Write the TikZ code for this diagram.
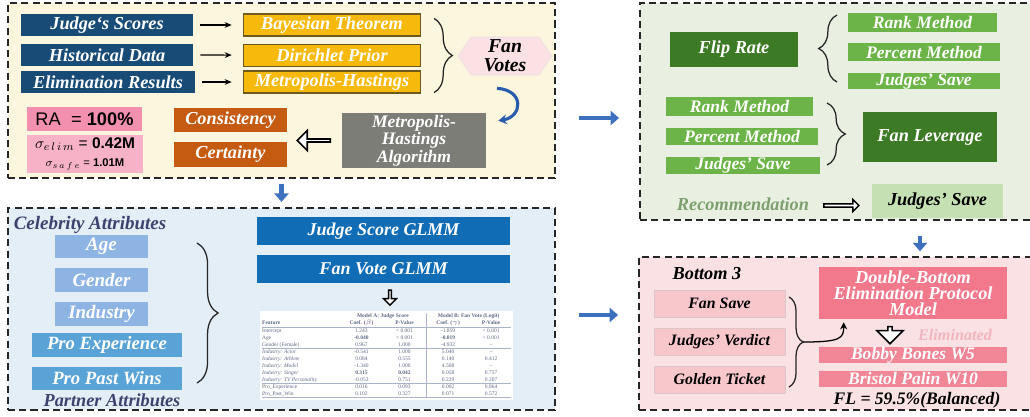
\documentclass[tikz,border=0pt]{standalone}
\usepackage{fontspec}
\setmainfont{Liberation Serif}
\newfontfamily\sansfont{Liberation Sans}
\usepackage{array}
\usepackage{colortbl}
\usepackage{tikz}
\usetikzlibrary{positioning, calc, arrows.meta, shapes.symbols, shapes.arrows, decorations.pathreplacing}

\newcommand{\bifont}[2]{\bfseries\itshape\fontsize{#1}{#2}\selectfont}
\newcolumntype{L}[1]{>{\raggedright\arraybackslash}p{#1}}
\newcolumntype{C}[1]{>{\centering\arraybackslash}p{#1}}

\definecolor{bgyellow}{RGB}{252,246,222}
\definecolor{bgblue}{RGB}{228,238,246}
\definecolor{bggreen}{RGB}{233,240,226}
\definecolor{bgpink}{RGB}{249,225,228}
\definecolor{navybox}{RGB}{24,76,118}
\definecolor{goldbox}{RGB}{247,186,12}
\definecolor{goldedge}{RGB}{110,90,30}
\definecolor{greybox}{RGB}{125,125,120}
\definecolor{orangebox}{RGB}{197,90,17}
\definecolor{rapink}{RGB}{243,144,176}
\definecolor{sigpink}{RGB}{247,178,200}
\definecolor{hexpink}{RGB}{251,224,228}
\definecolor{curveblue}{RGB}{40,92,172}
\definecolor{flowblue}{RGB}{62,112,192}
\definecolor{attrblue}{RGB}{142,180,227}
\definecolor{problue}{RGB}{90,163,215}
\definecolor{glmmblue}{RGB}{15,108,181}
\definecolor{attrtext}{RGB}{62,66,110}
\definecolor{tabtext}{RGB}{95,105,135}
\definecolor{tabrule}{RGB}{170,180,200}
\definecolor{darkgreen}{RGB}{61,122,37}
\definecolor{midgreen}{RGB}{108,180,72}
\definecolor{palegreen}{RGB}{197,224,179}
\definecolor{recomgreen}{RGB}{125,160,110}
\definecolor{rowpink}{RGB}{248,199,204}
\definecolor{dblpink}{RGB}{241,121,139}
\definecolor{elimpink}{RGB}{240,134,150}
\definecolor{elimtext}{RGB}{244,182,190}

\tikzset{
    px/.style 2 args={minimum width=#1*0.025cm, minimum height=#2*0.025cm},
    panel/.style={rectangle, draw=black!85, line width=1.3pt, dash pattern=on 5pt off 3pt, inner sep=0pt},
    box/.style={rectangle, inner sep=0pt, align=center, text=white, font=\bifont{13}{14}},
    inbox/.style={box, fill=navybox},
    goldbx/.style={box, fill=goldbox, draw=goldedge, line width=0.8pt},
    greybx/.style={box, fill=greybox, font=\bifont{12.5}{11}},
    orangebx/.style={box, fill=orangebox},
    attrbox/.style={box, fill=attrblue, font=\bifont{13.5}{14}},
    probox/.style={box, fill=problue, font=\bifont{13.3}{14}},
    glmmbox/.style={box, fill=glmmblue, font=\bifont{12.8}{13}},
    darkgreenbox/.style={box, fill=darkgreen, font=\bifont{13}{14}},
    greenbox/.style={box, fill=midgreen, font=\bifont{12.5}{13}},
    palebox/.style={box, fill=palegreen, text=black, font=\bifont{13}{14}},
    rowbox/.style={box, fill=rowpink, draw=rowpink!80!black!60, text=black, font=\bifont{11.3}{12}},
    dblbox/.style={box, fill=dblpink, font=\bifont{13}{11.5}},
    elimbox/.style={box, fill=elimpink, font=\bifont{12.5}{12}},
    label/.style={inner sep=0pt, font=\bifont{13}{14}},
    hollow/.style={single arrow, draw=black, fill=white, line width=1.1pt, inner sep=0pt},
    thinarrow/.style={-{Stealth[length=5pt, width=4pt]}, line width=0.8pt, shorten <=0.18cm, shorten >=0.28cm},
    flowarrow/.style={draw=flowblue, line width=3.5pt, -{Triangle[length=6pt, width=10pt]}},
    bracedeco/.style={decorate, line width=0.9pt, draw=black!85},
}

\begin{document}
\begin{tikzpicture}[x=0.025cm, y=-0.025cm]
\useasboundingbox (0,0) rectangle (1030,416);

% === PANELS ===
\node[panel, fill=bgyellow, px={547}{175}] (p1) at (281.5,90.5) {};
\node[panel, fill=bgblue, px={547}{202}] (p2) at (281.5,309) {};
\node[panel, fill=bggreen, px={400}{217}] (p3) at (840,111.5) {};
\node[panel, fill=bgpink, px={401}{153}] (p4) at (839.5,333.5) {};

\draw[flowarrow, shorten <=0.13cm, shorten >=0.13cm] (p1.south) -- (p2.north);
\draw[flowarrow, shorten <=0.57cm, shorten >=0.5cm] (p1.east |- 0,118) -- (p3.west |- 0,118);
\draw[flowarrow, shorten <=0.57cm, shorten >=0.5cm] (p2.east |- 0,315) -- (p4.west |- 0,315);
\draw[flowarrow, shorten <=0.37cm, shorten >=0.12cm] (p3.south -| 920,0) -- (p4.north -| 920,0);

% === FAN VOTE ESTIMATION ===
\node[inbox, px={172}{22}] (scores) at (107,25) {Judge‘s Scores};
\node[inbox, px={172}{22}, below=0.18cm of scores] (hist) {Historical Data};
\node[inbox, px={174}{22}] (elim) at (108,82) {Elimination Results};

\node[goldbx, px={177}{22}] (bayes) at (332,25) {Bayesian Theorem};
\node[goldbx, px={177}{22}, below=0.18cm of bayes] (dirich) {Dirichlet Prior};
\node[goldbx, px={177}{22}] (mh) at (332,82) {Metropolis-Hastings};

\foreach \a/\b in {scores/bayes, hist/dirich, elim/mh}
    \draw[thinarrow] (\a) -- (\b);

\coordinate (b1top) at ($(bayes.north east)+(13,5)$);
\coordinate (b1bot) at ($(mh.south east)+(13,-1)$);
\draw[bracedeco, decoration={brace, amplitude=13pt}] (b1top) -- (b1bot);

\node[signal, signal to=west and east, signal pointer angle=112, fill=hexpink, draw=hexpink!80!black!40,
      px={94}{38}, inner sep=0pt, align=center, font=\bifont{14}{13.5}] (fanv) at (505,56) {Fan\\Votes};

\node[greybx, px={144}{55}] (mhalg) at (414,140.5) {Metropolis-\\Hastings\\Algorithm};
\draw[curveblue, line width=2.2pt, -{Stealth[length=6pt, width=7pt]}]
    ($(fanv.south)+(-8,13)$) .. controls +(28,2) and +(24,-4) .. ($(mhalg.north east)+(12,8)$);

\node[orangebx, px={113}{24}] (cons) at (230.5,120) {Consistency};
\node[orangebx, px={113}{25}] (cert) at (230.5,154.5) {Certainty};
\node[hollow, shape border rotate=180, px={20}{33}, single arrow head extend=0.11cm]
    (h1) at ($(cert.east |- mhalg.west)!0.5!(mhalg.west)$) {};

\node[box, fill=rapink, text=black, px={115}{24}, font=\sansfont\fontsize{13}{14}\selectfont] (ra) at (84.5,119)
    {RA\; = \textbf{100\%}};
\node[box, fill=sigpink, text=black, px={116}{38}, font=\sansfont] (sig) at (85,154)
    {{\fontsize{11}{13}\selectfont $\sigma_{e\,l\,i\,m}$ = \textbf{0.42M}}\\[1pt]
     {\fontsize{8}{9}\selectfont $\sigma_{s\,a\,f\,e}$ = \textbf{1.01M}}};

% === ATTRIBUTE MODELS ===
\node[label, text=attrtext, font=\bifont{13.5}{14}] (celeb) at (90,225) {Celebrity Attributes};
\node[attrbox, px={93}{23}] (age) at (101.5,246.5) {Age};
\node[attrbox, px={93}{24}] (gender) at (101.5,280) {Gender};
\node[attrbox, px={93}{24}] (industry) at (101.5,314) {Industry};
\node[probox, px={150}{24}] (proexp) at (107,345) {Pro Experience};
\node[probox, px={150}{23}] (prowins) at (107,378.5) {Pro Past Wins};
\node[label, text=attrtext] (partner) at (112,400.5) {Partner Attributes};

\coordinate (b2top) at (197,243);
\coordinate (b2bot) at (197,383);
\draw[bracedeco, decoration={brace, amplitude=15pt}] (b2top) -- (b2bot);

\node[glmmbox, px={253}{28}] (jsglmm) at (383.5,231) {Judge Score GLMM};
\node[glmmbox, px={253}{28}] (fvglmm) at (383.5,269) {Fan Vote GLMM};

\node[fill=white, inner sep=1.5pt, font=\fontsize{3.9}{4.9}\selectfont, text=tabtext] (tbl) at (386.5,355.5) {%
    \setlength\tabcolsep{1.3pt}\arrayrulecolor{tabrule}%
    \begin{tabular}{@{}L{54pt}C{28pt}C{28pt}|C{28pt}C{28pt}@{}}
    & \multicolumn{2}{c|}{\bfseries Model A: Judge Score} & \multicolumn{2}{c}{\bfseries Model B: Fan Vote (Logit)}\\
    \bfseries Feature & \bfseries Coef. ($\beta$) & \bfseries P-Value & \bfseries Coef. ($\gamma$) & \bfseries P-Value\\ \hline
    Intercept & 1.243 & < 0.001 & -1.859 & < 0.001\\
    Age & \bfseries -0.040 & < 0.001 & \bfseries -0.019 & < 0.001\\
    Gender (Female) & 0.967 & 1.000 & -4.932 & --\\ \hline
    \itshape Industry: Actor & -0.541 & 1.000 & 5.040 & --\\
    \itshape Industry: Athlete & 0.084 & 0.555 & 0.140 & 0.412\\
    \itshape Industry: Model & -1.340 & 1.000 & 4.508 & --\\
    \itshape Industry: Singer & \bfseries 0.315 & \bfseries 0.042 & 0.058 & 0.757\\
    \itshape Industry: TV Personality & -0.053 & 0.751 & 0.229 & 0.207\\ \hline
    Pro\_Experience & 0.016 & 0.093 & 0.002 & 0.864\\
    Pro\_Past\_Win & 0.102 & 0.327 & 0.071 & 0.572\\ \hline
    \end{tabular}};
\node[hollow, shape border rotate=270, px={13}{15}, single arrow head extend=0.07cm, line width=1pt]
    (h2) at ($(fvglmm.south)!0.5!(tbl.north)+(5,0)$) {};

% === FLIP RATE / FAN LEVERAGE ===
\node[darkgreenbox, px={128}{35}] (flip) at (734,49.5) {Flip Rate};
\node[greenbox, px={149}{19}] (rank1) at (922.5,22.5) {Rank Method};
\node[greenbox, px={152}{18}] (pct1) at (924,52) {Percent Method};
\node[greenbox, px={152}{16}] (js1) at (924,81) {Judges' Save};
\coordinate (b3top) at (837,15);
\coordinate (b3bot) at (837,82);
\draw[bracedeco, decoration={brace, amplitude=13pt}] (b3bot) -- (b3top);

\node[greenbox, px={147}{19}] (rank2) at (739.5,106.5) {Rank Method};
\node[greenbox, px={152}{17}] (pct2) at (742,136.5) {Percent Method};
\node[greenbox, px={154}{17}] (js2) at (743,165.5) {Judges' Save};
\coordinate (b4top) at (827,103);
\coordinate (b4bot) at (827,165);
\draw[bracedeco, decoration={brace, amplitude=13pt}] (b4top) -- (b4bot);
\node[darkgreenbox, px={134}{50}] (fanlev) at (930,137) {Fan Leverage};

\node[label, text=recomgreen] (recom) at (743,204) {Recommendation};
\node[palebox, px={131}{34}] (js3) at (937.5,201) {Judges' Save};
\node[hollow, px={12}{35}, single arrow head extend=0.045cm, line width=1pt]
    (h3) at ($(recom.east)!0.5!(js3.west)+(0,3)$) {};

% === DOUBLE-BOTTOM PROTOCOL ===
\node[label] (bot3) at (707,274) {Bottom 3};
\node[rowbox, px={131}{27}] (fansave) at (719.5,303.5) {Fan Save};
\node[rowbox, px={131}{27}] (verdict) at (719.5,341.5) {Judges' Verdict};
\node[rowbox, px={131}{27}] (ticket) at (719.5,379.5) {Golden Ticket};
\coordinate (b5top) at (789,297);
\coordinate (b5bot) at (789,387);
\draw[bracedeco, decoration={brace, amplitude=10pt}] (b5top) -- (b5bot);
\coordinate (b5tip) at (803,342);

\node[dblbox, px={188}{52}] (dbl) at (913,293) {Double-Bottom\\Elimination Protocol\\Model};
\draw[line width=0.9pt, -{Stealth[length=5pt, width=5pt]}]
    (b5tip) .. controls +(38,0) and +(0,16) .. ($(dbl.south west)+(25,3)$);

\node[hollow, shape border rotate=270, px={26}{17}, single arrow head extend=0.1cm]
    (h4) at ($(dbl.south)!0.5!(dbl.south |- 0,347)+(-23,1)$) {};
\node[label, text=elimtext, font=\bifont{11.5}{12}] (elimlbl) at (955,335) {Eliminated};
\node[elimbox, px={188}{16}] (bobby) at (913,355) {Bobby Bones W5};
\node[elimbox, px={188}{16}] (bristol) at (913,379) {Bristol Palin W10};
\node[label, font=\bifont{12.5}{13}] (fl) at (917,400) {FL = 59.5\%(Balanced)};

\end{tikzpicture}
\end{document}
